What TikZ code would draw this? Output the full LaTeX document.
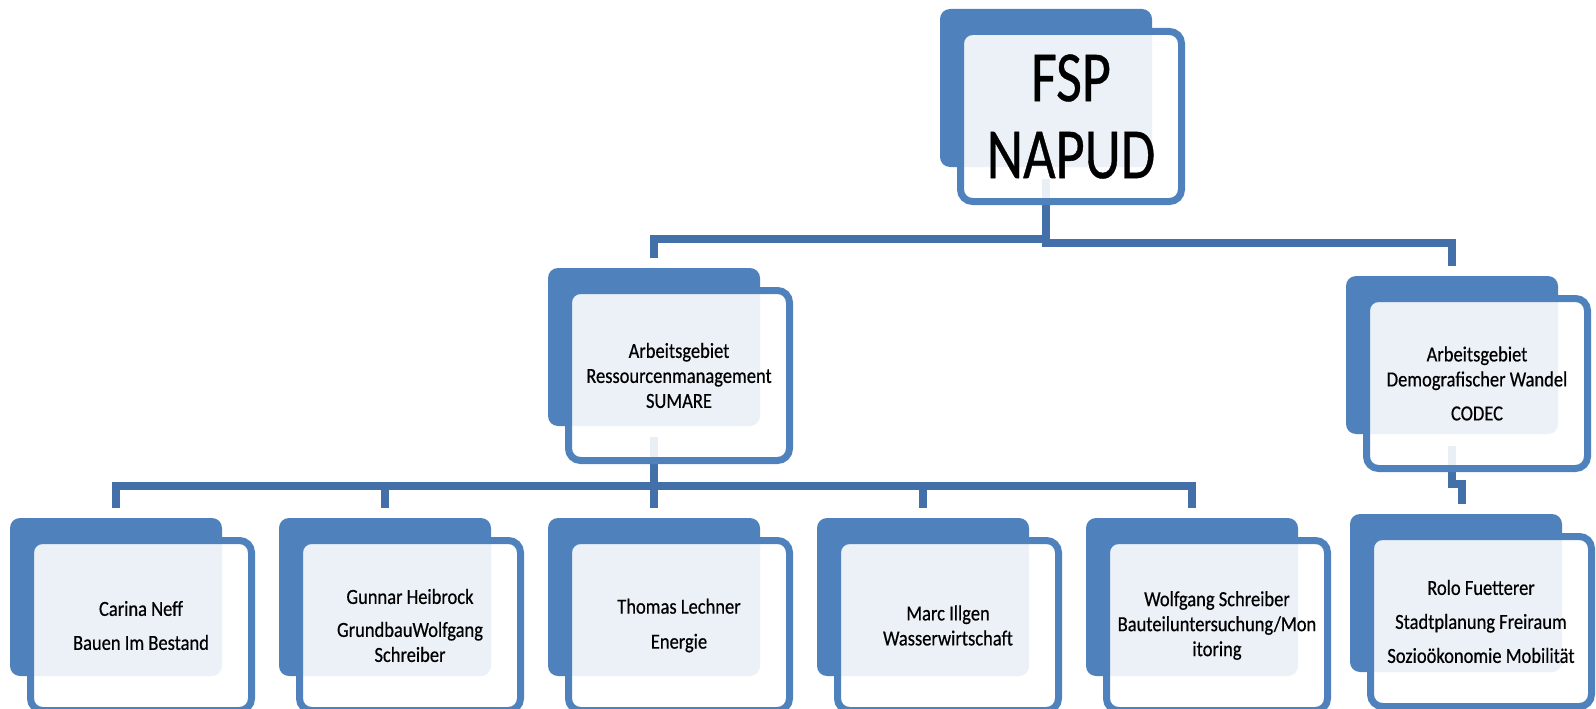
\documentclass[tikz,border=0pt]{standalone}
\usepackage{fontspec}
\newfontfamily\boxfont[FakeStretch=0.86, FakeBold=0.5]{Carlito}
\newfontfamily\bigfont[FakeStretch=0.78, FakeBold=0.5]{Carlito}
\usepackage{tikz}
\usetikzlibrary{calc}
\definecolor{boxblue}{HTML}{4F81BD}
\definecolor{linkblue}{HTML}{4470AA}
\tikzset{backbox/.style={fill=boxblue, rounded corners=10pt, minimum width=212pt, minimum height=158pt, inner sep=0pt}}
\tikzset{frontbox/.style={draw=boxblue, line width=7pt, fill=white, fill opacity=0.89, text opacity=1, rounded corners=12pt, minimum width=221pt, minimum height=170pt, inner sep=2pt, align=center, font=\boxfont\fontsize{21.5}{25}\selectfont}}
\tikzset{link/.style={draw=linkblue, line width=8pt}}

\begin{document}
\begin{tikzpicture}[x=1pt, y=-1pt]
    \useasboundingbox (0,0) rectangle (1596,709);

    \node[backbox] at (1046,88) (fsp){};
    \node[backbox] at (654,347) (sumare){};
    \node[backbox] at (1452,355) (codec){};

    \node[backbox] at (116,597) (neff){};
    \node[backbox] at ([xshift = 269pt]neff) (heibrock){};
    \node[backbox] at ([xshift = 269pt]heibrock) (lechner){};
    \node[backbox] at ([xshift = 269pt]lechner) (illgen){};
    \node[backbox] at ([xshift = 269pt]illgen) (schreiber){};
    \node[backbox] at (1456,593) (fuetterer){};


    \draw[link] ([yshift = -12pt]fsp.south) -- (fsp.south |- 0,239) -| ([yshift = 10pt]sumare.north);
    \draw[link] ([yshift = -12pt]fsp.south) -- (fsp.south |- 0,243) -| ([yshift = 10pt]codec.north);

    \draw[link] ([yshift = -11pt]sumare.south) -- (sumare.south |- 0,486) -| ([yshift = 10pt]neff.north);
    \draw[link] ([yshift = -11pt]sumare.south) -- (sumare.south |- 0,486) -| ([yshift = 10pt]heibrock.north);
    \draw[link] ([yshift = -11pt]sumare.south) -- ([yshift = 10pt]lechner.north);
    \draw[link] ([yshift = -11pt]sumare.south) -- (sumare.south |- 0,486) -| ([yshift = 10pt]illgen.north);
    \draw[link] ([yshift = -11pt]sumare.south) -- (sumare.south |- 0,486) -| ([yshift = 10pt]schreiber.north);

    \draw[link] ([yshift = -12pt]codec.south) -- (codec.south |- 0,484) -| ([xshift = 6pt, yshift = 10pt]fuetterer.north);


    \node[frontbox, font=\bigfont\fontsize{72}{77}\selectfont] at ([shift = {(25,28.5)}]fsp.center) (fspF){FSP\\NAPUD};
    \node[frontbox] at ([shift = {(25,28.5)}]sumare.center) (sumareF){Arbeitsgebiet\\Ressourcenmanagement\\SUMARE};
    \node[frontbox] at ([shift = {(25,28.5)}]codec.center) (codecF){Arbeitsgebiet\\Demografischer Wandel\\[9pt]CODEC};

    \node[frontbox] at ([shift = {(25,28.5)}]neff.center) (neffF){Carina Neff\\[9pt]Bauen Im Bestand};
    \node[frontbox] at ([shift = {(25,28.5)}]heibrock.center) (heibrockF){Gunnar Heibrock\\[8pt]GrundbauWolfgang\\Schreiber};
    \node[frontbox] at ([shift = {(25,28.5)}]lechner.center) (lechnerF){Thomas Lechner\\[10pt]Energie};
    \node[frontbox] at ([shift = {(25,28.5)}]illgen.center) (illgenF){Marc Illgen\\Wasserwirtschaft};
    \node[frontbox] at ([shift = {(25,28.5)}]schreiber.center) (schreiberF){Wolfgang Schreiber\\Bauteiluntersuchung/Mon\\itoring};
    \node[frontbox] at ([shift = {(25,28.5)}]fuetterer.center) (fuettererF){Rolo Fuetterer\\[9pt]Stadtplanung Freiraum\\[9pt]Sozioökonomie Mobilität};
  \end{tikzpicture}
\end{document}
